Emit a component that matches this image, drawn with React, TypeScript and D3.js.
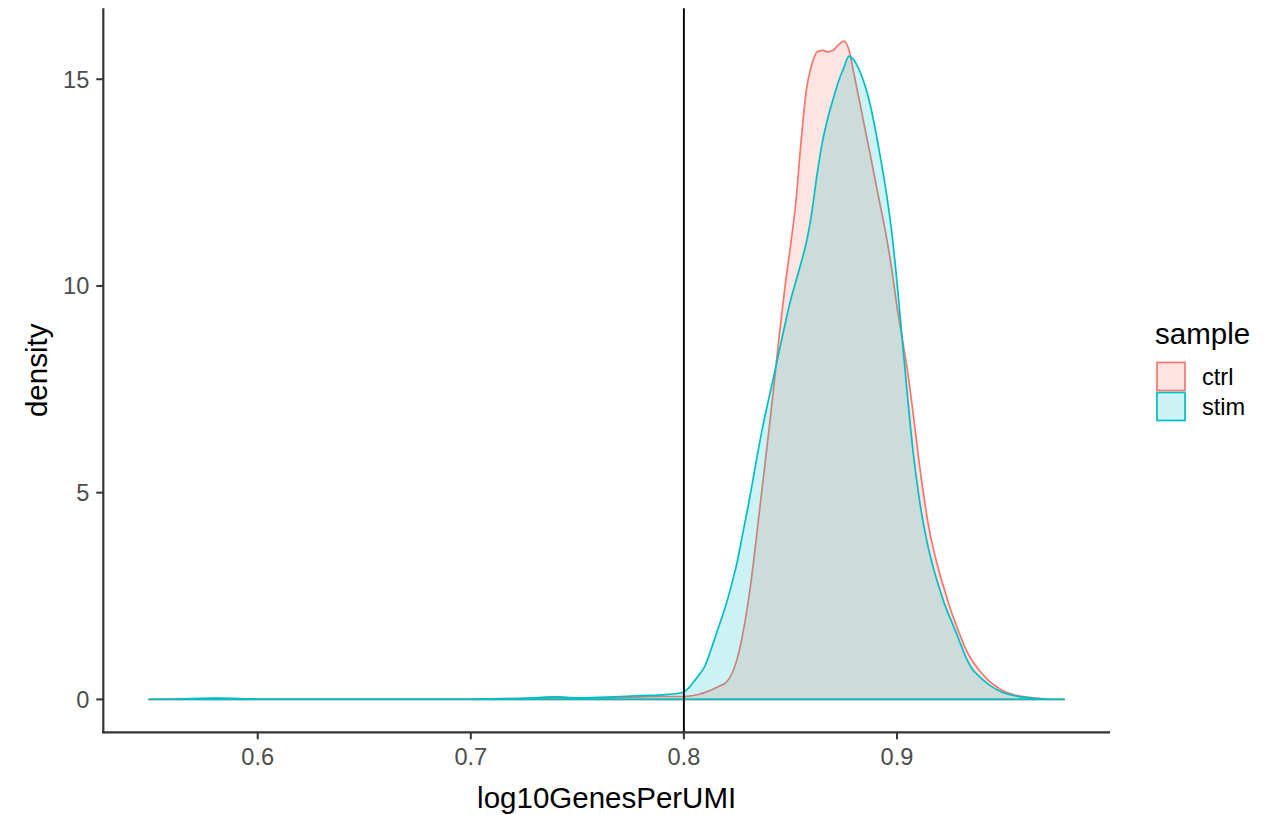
import React from "react";
import * as d3 from "d3";

// x grid (log10GenesPerUMI)
const xGrid = [
  0.549, 0.56, 0.58, 0.6, 0.62, 0.65, 0.68, 0.7, 0.72, 0.73, 0.74, 0.75, 0.76, 0.77, 0.78, 0.79, 0.795,
  0.8, 0.8025, 0.805, 0.8075, 0.81, 0.8125, 0.815, 0.8175, 0.82, 0.8225, 0.825, 0.8275, 0.83, 0.8325,
  0.835, 0.8375, 0.84, 0.8425, 0.845, 0.8475, 0.85, 0.8525, 0.855, 0.8575, 0.86, 0.8625, 0.865, 0.8675,
  0.87, 0.8725, 0.875, 0.8775, 0.88, 0.8825, 0.885, 0.8875, 0.89, 0.8925, 0.895, 0.8975, 0.9, 0.9025,
  0.905, 0.9075, 0.91, 0.9125, 0.915, 0.9175, 0.92, 0.9225, 0.925, 0.9275, 0.93, 0.9325, 0.935, 0.9375,
  0.94, 0.9425, 0.945, 0.9475, 0.95, 0.955, 0.96, 0.965, 0.97, 0.9785,
];

const ctrlDensity = [
  0.0, 0.005, 0.02, 0.01, 0.005, 0.005, 0.005, 0.01, 0.02, 0.03, 0.05, 0.03, 0.04, 0.05, 0.06, 0.07, 0.07,
  0.07, 0.08, 0.1, 0.13, 0.17, 0.22, 0.28, 0.34, 0.42, 0.62, 0.98, 1.55, 2.3, 3.25,
  4.35, 5.45, 6.55, 7.71, 8.92, 10.0, 10.96, 12.0, 13.5, 14.75, 15.35, 15.66, 15.7, 15.66,
  15.7, 15.83, 15.92, 15.7, 15.08, 14.45, 13.8, 13.17, 12.5, 11.86, 11.2, 10.42, 9.5, 8.72,
  7.92, 6.96, 5.9, 4.95, 4.15, 3.55, 3.05, 2.62, 2.2, 1.84, 1.5, 1.19, 0.96, 0.78,
  0.62, 0.48, 0.37, 0.28, 0.2, 0.11, 0.06, 0.03, 0.01, 0.0,
];

const stimDensity = [
  0.0, 0.005, 0.03, 0.01, 0.005, 0.005, 0.01, 0.01, 0.02, 0.04, 0.06, 0.04, 0.05, 0.07, 0.09, 0.11, 0.13,
  0.18, 0.29, 0.45, 0.62, 0.82, 1.17, 1.55, 1.93, 2.33, 2.8, 3.32, 3.98, 4.63, 5.34,
  6.06, 6.72, 7.31, 7.89, 8.49, 9.08, 9.64, 10.1, 10.56, 11.06, 11.77, 12.7, 13.48, 14.05,
  14.51, 14.94, 15.27, 15.56, 15.45, 15.2, 14.85, 14.37, 13.74, 13.03, 12.26, 11.32, 10.1, 8.68,
  7.3, 6.02, 5.02, 4.22, 3.6, 3.1, 2.67, 2.28, 1.96, 1.65, 1.32, 1.0, 0.76, 0.61,
  0.49, 0.38, 0.29, 0.22, 0.16, 0.09, 0.05, 0.02, 0.01, 0.0,
];

const samples = ["ctrl", "stim"];
const sampleColors = ["#F8766D", "#00BFC4"];
const xTicks = [0.6, 0.7, 0.8, 0.9];
const yTicks = [0, 5, 10, 15];
const cutoff = [0.8];

const FONT = "'Liberation Sans', Arial, Helvetica, sans-serif";

export default function App() {
  const W = 1276;
  const H = 815;
  const left = 103.3;
  const right = 1110;
  const top = 8.3;
  const bottom = 732.3;

  const xMin = d3.min(xGrid) as number;
  const xMax = d3.max(xGrid) as number;
  const xPad = (xMax - xMin) * 0.05;
  const yMax = Math.max(d3.max(ctrlDensity) as number, d3.max(stimDensity) as number);
  const yPad = yMax * 0.05;

  const x = d3.scaleLinear().domain([xMin - xPad, xMax + xPad]).range([left, right]);
  const y = d3.scaleLinear().domain([-yPad, yMax + yPad]).range([bottom, top]);

  const series = [ctrlDensity, stimDensity];
  const area = d3
    .area<number>()
    .x((_, i) => x(xGrid[i]))
    .y0(() => y(0))
    .y1((d) => y(d))
    .curve(d3.curveMonotoneX);

  const tickColor = "#333333";
  const tickTextColor = "#4D4D4D";

  return (
    <svg
      width={W}
      height={H}
      style={{ position: "absolute", left: 0, top: 0, background: "#fff" }}
      fontFamily={FONT}
    >
      <rect x={0} y={0} width={W} height={H} fill="#fff" />
      {series.map((s, k) => (
        <path
          key={samples[k]}
          d={area(s) || ""}
          fill={sampleColors[k]}
          fillOpacity={0.2}
          stroke={sampleColors[k]}
          strokeWidth={1.7}
          strokeLinejoin="round"
        />
      ))}
      {cutoff.map((c) => (
        <line key={c} x1={x(c)} x2={x(c)} y1={top} y2={bottom} stroke="#000" strokeWidth={1.9} />
      ))}

      {/* axes */}
      <line x1={left} x2={left} y1={top} y2={bottom + 1} stroke={tickColor} strokeWidth={2.2} />
      <line x1={left - 1} x2={right} y1={bottom} y2={bottom} stroke={tickColor} strokeWidth={2.2} />
      {yTicks.map((t) => (
        <g key={"y" + t}>
          <line x1={left - 7} x2={left} y1={y(t)} y2={y(t)} stroke={tickColor} strokeWidth={2} />
          <text
            x={left - 14}
            y={y(t)}
            dy="0.36em"
            textAnchor="end"
            fontSize={23.6}
            fill={tickTextColor}
          >
            {t}
          </text>
        </g>
      ))}
      {xTicks.map((t) => (
        <g key={"x" + t}>
          <line x1={x(t)} x2={x(t)} y1={bottom} y2={bottom + 7} stroke={tickColor} strokeWidth={2} />
          <text x={x(t)} y={765} textAnchor="middle" fontSize={23.6} fill={tickTextColor}>
            {d3.format(".1f")(t)}
          </text>
        </g>
      ))}

      {/* axis titles */}
      <text x={(left + right) / 2} y={808} textAnchor="middle" fontSize={29.5} fill="#000">
        log10GenesPerUMI
      </text>
      <text
        transform={`translate(47, ${(top + bottom) / 2}) rotate(-90)`}
        textAnchor="middle"
        fontSize={29.5}
        fill="#000"
      >
        density
      </text>

      {/* legend */}
      <text x={1155} y={344} fontSize={29.5} fill="#000">
        sample
      </text>
      {samples.map((s, k) => (
        <g key={"lg" + s}>
          <rect
            x={1157}
            y={362.5 + k * 30}
            width={28}
            height={28}
            fill={sampleColors[k]}
            fillOpacity={0.2}
            stroke={sampleColors[k]}
            strokeWidth={1.7}
          />
          <text x={1202} y={376.5 + k * 30} dy="0.36em" fontSize={23.6} fill="#000">
            {s}
          </text>
        </g>
      ))}
    </svg>
  );
}
